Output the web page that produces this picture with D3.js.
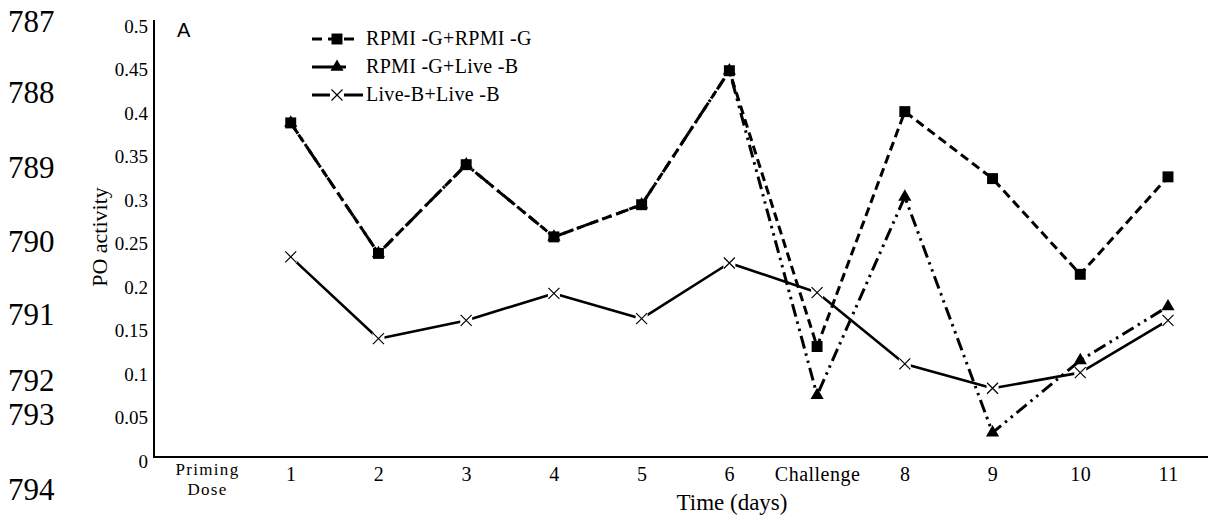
<!DOCTYPE html>
<html><head><meta charset="utf-8">
<script src="https://cdn.jsdelivr.net/npm/d3@7"></script>
<style>body{margin:0;background:#fff} svg{display:block}</style>
</head><body>
<svg id="c" width="1208" height="523"></svg>
<script>
// ---- data ----
const categories = ["Priming Dose","1","2","3","4","5","6","Challenge","8","9","10","11"];
const seriesNames = ["RPMI -G+RPMI -G","RPMI -G+Live -B","Live-B+Live -B"];
const rpmiRpmi = [null,0.384,0.234,0.336,0.253,0.290,0.444,0.127,0.397,0.320,0.210,0.322];
const rpmiLive = [null,0.384,0.234,0.336,0.253,0.290,0.444,0.071,0.299,0.028,0.111,0.173];
const liveLive = [null,0.230,0.136,0.157,0.188,0.159,0.223,0.189,0.107,0.079,0.097,0.157];
const yTicks = [0,0.05,0.1,0.15,0.2,0.25,0.3,0.35,0.4,0.45,0.5];
const yTickLabels = ["0","0.05","0.1","0.15","0.2","0.25","0.3","0.35","0.4","0.45","0.5"];
const lineNumbers = ["787","788","789","790","791","792","793","794"];
const xTitle = "Time (days)";
const yTitle = "PO activity";
const panelLabel = "A";

// ---- layout ----
const lineNumberBaselines = [32,103,178,252,325,391,425,500];
const serif = "'Liberation Serif','Times New Roman',serif";
const svg = d3.select("#c");
const x = d3.scalePoint().domain(categories).range([203,1168]);
const y = d3.scaleLinear().domain([0,0.5]).range([457,22]);

// line numbers
svg.append("g").selectAll("text").data(lineNumbers).join("text")
  .attr("x",8).attr("y",(d,i)=>lineNumberBaselines[i])
  .attr("font-family",serif).attr("font-size",31).attr("fill","#000")
  .text(d=>d);

// y axis
const ya = svg.append("g").attr("transform","translate(154,0)")
  .call(d3.axisLeft(y).tickValues(yTicks).tickFormat((d,i)=>yTickLabels[i]).tickSize(0).tickPadding(6));
ya.select(".domain").remove();
ya.selectAll("text").attr("font-family",serif).attr("font-size",19).attr("dy","0.55em");

// x axis
const xa = svg.append("g").attr("transform",`translate(0,${y(0)})`)
  .call(d3.axisBottom(x).tickSize(0).tickPadding(10));
xa.select(".domain").remove();
xa.selectAll("text").attr("font-family",serif).attr("font-size",20).attr("letter-spacing",0.5).attr("dy","0.71em");
// two-line category label: split into separate text lines
xa.selectAll(".tick").filter(d=>d==="Priming Dose").each(function(d){
  const tk = d3.select(this);
  tk.select("text").remove();
  d.split(" ").forEach((p,i)=>tk.append("text").attr("x",4).attr("y",18+i*19.5)
    .attr("text-anchor","middle").attr("fill","#000")
    .attr("font-family",serif).attr("font-size",17).attr("letter-spacing",1.3).text(p));
});

// axis lines
svg.append("line").attr("x1",154).attr("x2",154).attr("y1",y(0.5)-2).attr("y2",y(0))
  .attr("stroke","#000").attr("stroke-width",2);
svg.append("line").attr("x1",153).attr("x2",1208).attr("y1",y(0)).attr("y2",y(0))
  .attr("stroke","#000").attr("stroke-width",2);

// titles
svg.append("text").attr("x",732).attr("y",510).attr("text-anchor","middle")
  .attr("font-family",serif).attr("font-size",23).text(xTitle);
svg.append("text").attr("transform","translate(107,237) rotate(-90)").attr("text-anchor","middle")
  .attr("font-family",serif).attr("font-size",22).text(yTitle);
svg.append("text").attr("x",177).attr("y",37)
  .attr("font-family","'Liberation Sans',Arial,sans-serif").attr("font-size",20).text(panelLabel);

// series
const series = [
  {name:seriesNames[2], values:liveLive, dash:null, marker:"x", width:2.6},
  {name:seriesNames[1], values:rpmiLive, dash:"13,5,2.5,5,2.5,5", marker:"tri", width:3},
  {name:seriesNames[0], values:rpmiRpmi, dash:"9,5", marker:"sq", width:3}
];
const line = d3.line().defined(d=>d.v!=null).x(d=>x(d.c)).y(d=>y(d.v));

function drawMarker(g, type, cx, cy){
  if (type==="sq"){
    g.append("path").attr("d",d3.symbol(d3.symbolSquare,120)()).attr("transform",`translate(${cx},${cy})`).attr("fill","#000");
  } else if (type==="tri"){
    g.append("path").attr("d",d3.symbol(d3.symbolTriangle,75)()).attr("transform",`translate(${cx},${cy})`).attr("fill","#000");
  } else {
    const s=5.5;
    g.append("path").attr("d",`M${cx-s},${cy-s}L${cx+s},${cy+s}M${cx-s},${cy+s}L${cx+s},${cy-s}`)
      .attr("stroke","#000").attr("stroke-width",1.2).attr("fill","none");
  }
}

series.forEach(s=>{
  const pts = categories.map((c,i)=>({c, v:s.values[i]}));
  svg.append("path").datum(pts).attr("d",line).attr("fill","none").attr("stroke","#000")
    .attr("stroke-width",s.width).attr("stroke-dasharray",s.dash).attr("stroke-linejoin","round");
  const g = svg.append("g");
  pts.filter(p=>p.v!=null).forEach(p=>{
    if (s.marker==="x"){
      g.append("rect").attr("x",x(p.c)-6).attr("y",y(p.v)-6).attr("width",12).attr("height",12).attr("fill","#fff");
    }
    drawMarker(g,s.marker,x(p.c),y(p.v));
  });
});

// legend
const legendRows = [
  {name:seriesNames[0], dash:"10,6", marker:"sq", x2:358},
  {name:seriesNames[1], dash:null, marker:"tri", x2:346},
  {name:seriesNames[2], dash:null, marker:"x", x2:363}
];
const lg = svg.append("g");
legendRows.forEach((r,i)=>{
  const cy = 39 + i*28;
  lg.append("line").attr("x1",312).attr("x2",r.x2).attr("y1",cy).attr("y2",cy)
    .attr("stroke","#000").attr("stroke-width",3.2).attr("stroke-dasharray",r.dash);
  if (r.marker==="x") lg.append("rect").attr("x",330).attr("y",cy-6).attr("width",14).attr("height",12).attr("fill","#fff");
  drawMarker(lg,r.marker,337,cy);
  lg.append("text").attr("x",366).attr("y",cy+6).attr("font-family",serif).attr("font-size",20)
    .attr("letter-spacing",0.3).text(r.name);
});
</script>
</body></html>
